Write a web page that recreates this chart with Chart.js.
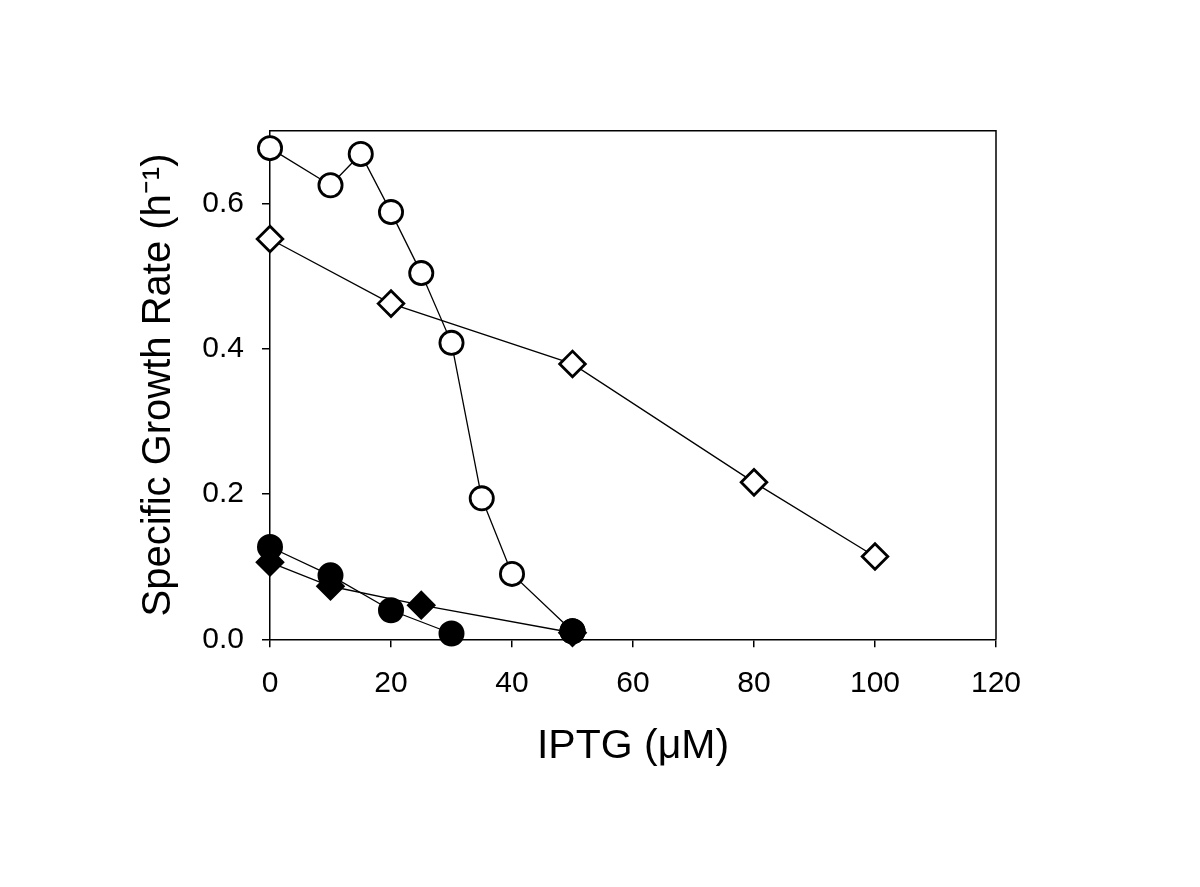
<!DOCTYPE html>
<html>
<head>
<meta charset="utf-8">
<script src="https://cdn.jsdelivr.net/npm/chart.js@4.4.1/dist/chart.umd.min.js"></script>
<style>
  html, body { margin: 0; padding: 0; background: #ffffff; }
  #wrap { width: 1200px; height: 887px; }
</style>
</head>
<body>
<div id="wrap"><canvas id="c" width="1200" height="887"></canvas></div>
<script>
// ---- data ----
const xTickValues = [0, 20, 40, 60, 80, 100, 120];
const yTickValues = [0.0, 0.2, 0.4, 0.6];

const openCircleX = [0, 10, 15, 20, 25, 30, 35, 40, 50];
const openCircleY = [0.676, 0.625, 0.668, 0.588, 0.504, 0.408, 0.194, 0.090, 0.011];

const openDiamondX = [0, 20, 50, 80, 100];
const openDiamondY = [0.551, 0.462, 0.379, 0.216, 0.114];

const filledCircleX = [0, 10, 20, 30, 40, 50];
const filledCircleY = [0.127, 0.088, 0.040, 0.008, null, 0.011];

const filledDiamondX = [0, 10, 25, 50];
const filledDiamondY = [0.106, 0.073, 0.047, 0.009];

const xTitle = 'IPTG (\u03BCM)';
const yTitle = 'Specific Growth Rate (h\u207B\u00B9)';

function pts(xs, ys) { return xs.map((x, i) => ({ x: x, y: ys[i] })); }

const FONT = "'Liberation Sans', Arial, sans-serif";

const framePlugin = {
  id: 'frame',
  beforeDatasetsDraw(chart) {
    const a = chart.chartArea, ctx = chart.ctx;
    ctx.save();
    ctx.strokeStyle = '#000';
    ctx.lineWidth = 1.5;
    ctx.beginPath();
    ctx.moveTo(a.left, a.top);
    ctx.lineTo(a.right, a.top);
    ctx.lineTo(a.right, a.bottom);
    ctx.stroke();
    ctx.restore();
  }
};

function ds(data, style, radius, fill) {
  return {
    data: data,
    showLine: true,
    spanGaps: false,
    borderColor: '#000',
    borderWidth: 1.3,
    pointStyle: style,
    pointRadius: radius,
    pointHoverRadius: radius,
    pointBorderWidth: 2.8,
    pointBorderColor: '#000',
    pointBackgroundColor: fill,
    backgroundColor: fill,
    clip: false
  };
}

new Chart(document.getElementById('c'), {
  type: 'scatter',
  data: {
    datasets: [
      ds(pts(filledCircleX, filledCircleY), 'circle', 11.6, '#000'),
      ds(pts(filledDiamondX, filledDiamondY), 'rectRot', 12.8, '#000'),
      ds(pts(openDiamondX, openDiamondY), 'rectRot', 12.8, '#fff'),
      ds(pts(openCircleX, openCircleY), 'circle', 11.6, '#fff')
    ]
  },
  options: {
    responsive: false,
    animation: false,
    devicePixelRatio: 1,
    layout: { padding: { left: 0, top: 130.7, right: 204, bottom: 0 } },
    plugins: { legend: { display: false }, tooltip: { enabled: false } },
    scales: {
      x: {
        type: 'linear',
        min: 0, max: 120,
        afterBuildTicks: s => { s.ticks = xTickValues.map(v => ({ value: v })); },
        afterFit: s => { s.height = 887 - 639.3; },
        ticks: { color: '#000', font: { family: FONT, size: 30 }, padding: 18, maxRotation: 0 },
        grid: { drawOnChartArea: false, drawTicks: true, tickLength: 8, color: '#000', lineWidth: 1.5 },
        border: { display: true, color: '#000', width: 1.5 },
        title: { display: true, text: xTitle, color: '#000', font: { family: FONT, size: 41 }, padding: { top: 0, bottom: 116 } }
      },
      y: {
        type: 'linear',
        min: 0, max: 0.7,
        afterBuildTicks: s => { s.ticks = yTickValues.map(v => ({ value: v })); },
        afterFit: s => { s.width = 270; },
        ticks: { color: '#000', font: { family: FONT, size: 30 }, padding: 18, callback: v => v.toFixed(1) },
        grid: { drawOnChartArea: false, drawTicks: true, tickLength: 8, color: '#000', lineWidth: 1.5 },
        border: { display: true, color: '#000', width: 1.5 },
        title: { display: true, text: yTitle, color: '#000', font: { family: FONT, size: 40 }, padding: { top: 135, bottom: 0 } }
      }
    }
  },
  plugins: [framePlugin]
});
</script>
</body>
</html>
